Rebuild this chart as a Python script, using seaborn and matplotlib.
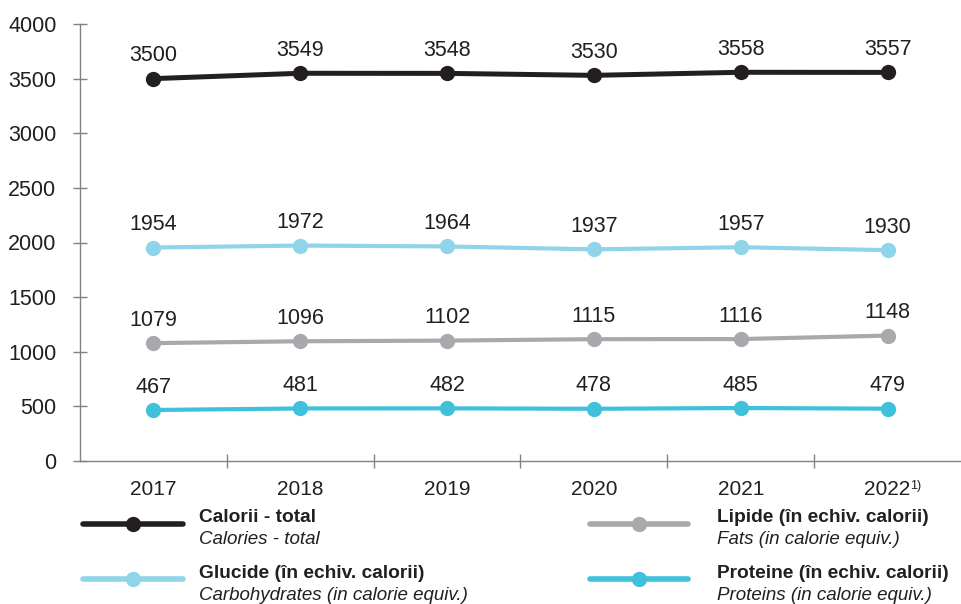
import numpy as np
import pandas as pd
import matplotlib
matplotlib.use("Agg")
import matplotlib.pyplot as plt
from matplotlib.lines import Line2D
import seaborn as sns

# Dados
anos = ["2017", "2018", "2019", "2020", "2021", "2022"]
calorii_total = [3500, 3549, 3548, 3530, 3558, 3557]
glucide = [1954, 1972, 1964, 1937, 1957, 1930]
lipide = [1079, 1096, 1102, 1115, 1116, 1148]
proteine = [467, 481, 482, 478, 485, 479]
yticks = [0, 500, 1000, 1500, 2000, 2500, 3000, 3500, 4000]

serii = [
    ("Calorii - total", "Calories - total", calorii_total, "#231f20"),
    ("Glucide (în echiv. calorii)", "Carbohydrates (in calorie equiv.)", glucide, "#8fd4e9"),
    ("Lipide (în echiv. calorii)", "Fats (in calorie equiv.)", lipide, "#a7a9ac"),
    ("Proteine (în echiv. calorii)", "Proteins (in calorie equiv.)", proteine, "#3fc1dc"),
]

sns.set_style("white")
plt.rcParams["font.family"] = ["Liberation Sans", "DejaVu Sans"]
text_color = "#231f20"
axis_color = "#808285"

fig = plt.figure(figsize=(9.61, 6.04), dpi=100)
ax = fig.add_axes([80 / 961, 1 - 461 / 604, 1 - 80 / 961, (461 - 24) / 604])

x = np.arange(len(anos))
for nume, _, valori, cor in serii:
    df = pd.DataFrame({"x": x, "y": valori})
    lw = 3.6 if cor == "#231f20" else 3.0
    sns.lineplot(data=df, x="x", y="y", ax=ax, color=cor, linewidth=lw,
                 marker="o", markersize=11, markeredgewidth=0)
    for xi, v in zip(x, valori):
        ax.annotate(str(v), (xi, v), xytext=(0, 12.5), textcoords="offset points",
                    ha="center", va="baseline", fontsize=15.5, color=text_color)

ax.set_xlim(-0.5, len(anos) - 0.5)
ax.set_ylim(0, 4000)
ax.set_yticks(yticks)
ax.set_xticks(x)
ax.set_xticklabels(anos)
ax.set_xticks(x[:-1] + 0.5, minor=True)
ax.set_xlabel("")
ax.set_ylabel("")
ax.tick_params(axis="x", which="major", length=0, pad=14, labelsize=15, labelcolor=text_color)
ax.tick_params(axis="x", which="minor", direction="inout", length=10, width=1, color=axis_color, bottom=True)
ax.tick_params(axis="y", direction="inout", length=10, width=1, color=axis_color, pad=12,
               labelsize=15.5, labelcolor=text_color, left=True)
for s in ["top", "right"]:
    ax.spines[s].set_visible(False)
for s in ["left", "bottom"]:
    ax.spines[s].set_color(axis_color)
    ax.spines[s].set_linewidth(1)

# nota 1) para 2022
ax.annotate("1)", (x[-1], 0), xytext=(16, -20), textcoords="offset points",
            ha="left", va="baseline", fontsize=9, color=text_color, annotation_clip=False)

# Legenda manual
pos = [(83, 183, 524, 199), (83, 183, 579, 199), (590, 688, 524, 717), (590, 688, 579, 717)]
for (nume, sub, _, cor), (x0, x1, yl, xt) in zip(serii, pos):
    fig.add_artist(Line2D([x0 / 961, x1 / 961], [1 - yl / 604] * 2, color=cor, linewidth=4,
                          transform=fig.transFigure))
    fig.add_artist(Line2D([(x0 + x1) / 2 / 961], [1 - yl / 604], color=cor, marker="o",
                          markersize=11, markeredgewidth=0, transform=fig.transFigure))
    fig.text(xt / 961, 1 - (yl - 6) / 604, nume, fontsize=13.8, fontweight="bold",
             color=text_color, va="center", ha="left")
    fig.text(xt / 961, 1 - (yl + 16) / 604, sub, fontsize=13.5, fontstyle="italic",
             color=text_color, va="center", ha="left")

fig.savefig("out.png", dpi=100)
